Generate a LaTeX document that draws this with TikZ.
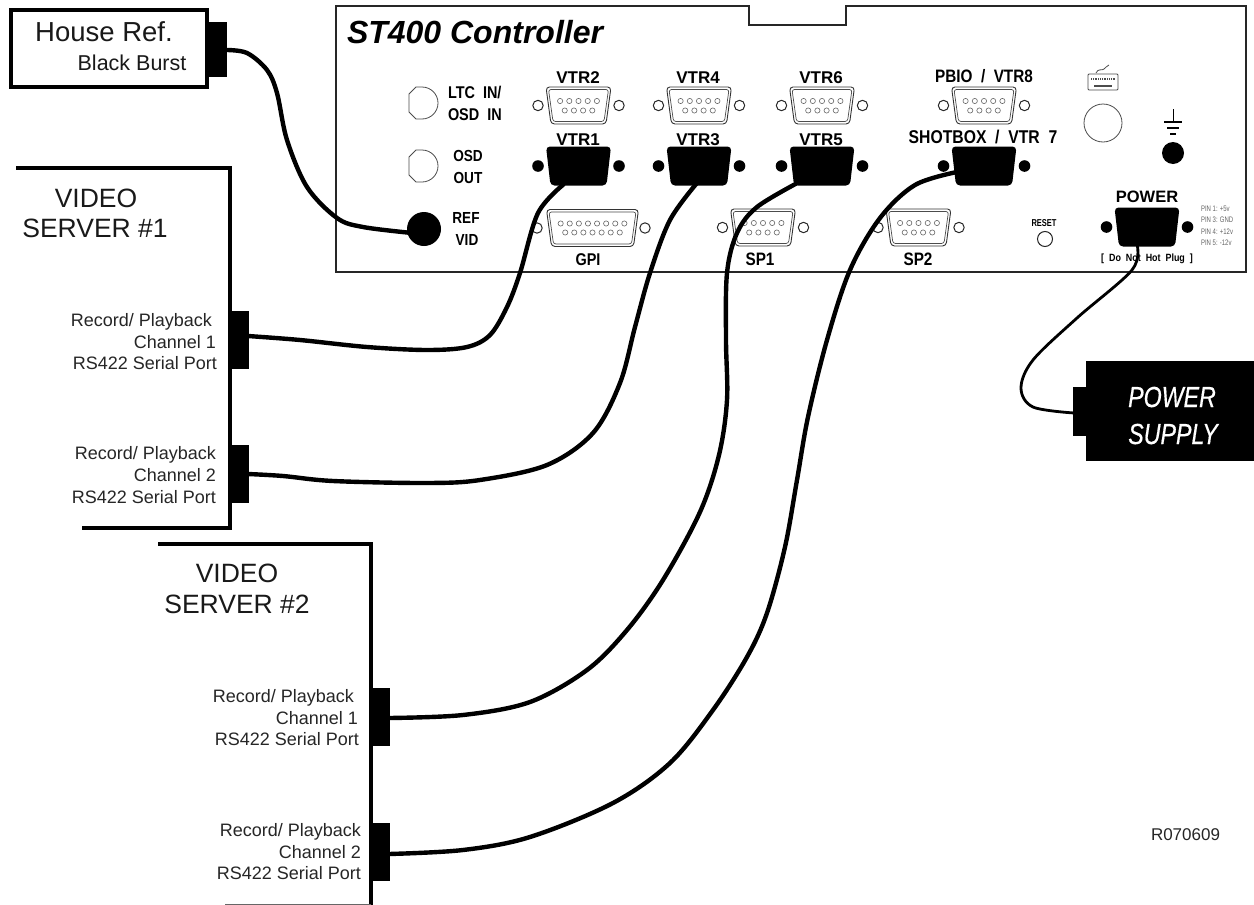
\documentclass[tikz,border=0pt]{standalone}
\usepackage{fontspec}
\setmainfont{Liberation Sans}
\newfontfamily\cond[FakeStretch=0.85]{Liberation Sans}
\newfontfamily\condx[FakeStretch=0.75]{Liberation Sans}
\newfontfamily\condp[FakeStretch=0.8,FakeBold=0.5]{Liberation Sans}
\newcommand{\fs}[1]{\fontsize{#1}{#1}\selectfont}
\tikzset{
  lab/.style={inner sep=0pt,outer sep=0pt,anchor=base},
  labl/.style={inner sep=0pt,outer sep=0pt,anchor=base west},
  labr/.style={inner sep=0pt,outer sep=0pt,anchor=base east},
  conlab/.style={lab,font=\fs{17}\bfseries},
  panlab/.style={lab,font=\fs{16}\cond\bfseries},
  portlab/.style={labr,font=\fs{18},text=black!85},
  srvlab/.style={lab,font=\fs{26.5},text=black!90},
  cable/.style={line width=4.4pt,line cap=butt,black},
  hole/.style={draw=black!85,line width=1pt,fill=white},
  pin/.style={draw=black!60,line width=0.6pt,fill=white},
  pan/.style={draw=black!85,line width=1.5pt},
  srv/.style={draw=black,line width=3.2pt},
  pinl/.style={labl,font=\fs{8}\condx,text=black!60}
}
% open D-sub: centre x, centre y, half width top, half width bottom
\newcommand{\dopen}[4]{%
  \draw[black!80,line width=0.9pt,rounded corners=3.5pt] (#1-#3,#2-18.5) -- (#1+#3,#2-18.5) -- (#1+#4,#2+18.5) -- (#1-#4,#2+18.5) -- cycle;
  \draw[black!70,line width=0.7pt,rounded corners=2.5pt] (#1-#3+2.5,#2-16) -- (#1+#3-2.5,#2-16) -- (#1+#4-2,#2+16) -- (#1-#4+2,#2+16) -- cycle;
}
\newcommand{\dblack}[4]{%
  \fill[black,rounded corners=4pt] (#1-#3,#2-19.5) -- (#1+#3,#2-19.5) -- (#1+#4,#2+19.5) -- (#1-#4,#2+19.5) -- cycle;
}
\newcommand{\pinsnine}[2]{%
  \foreach \i in {-2,...,2} \draw[pin] (#1+\i*9.2,#2-4.5) circle (2.6);
  \foreach \i in {-1.5,-0.5,0.5,1.5} \draw[pin] (#1+\i*9.2,#2+5) circle (2.6);
}
\newcommand{\nineopen}[2]{%
  \dopen{#1}{#2}{32.5}{27.5}
  \pinsnine{#1}{#2}
  \draw[hole] (#1-40.5,#2) circle (5.2);
  \draw[hole] (#1+40.5,#2) circle (5.2);
}
\newcommand{\nineblack}[2]{%
  \dblack{#1}{#2}{32.5}{28}
  \fill (#1-40.5,#2) circle (5.8);
  \fill (#1+40.5,#2) circle (5.8);
}
\begin{document}
\begin{tikzpicture}[x=1pt,y=1pt,yscale=-1]
\useasboundingbox (0,0) rectangle (1254,905);
\fill[white] (0,0) rectangle (1254,905);

% ---------- controller panel
\draw[pan] (336,6) -- (749,6) -- (749,25) -- (846,25) -- (846,6) -- (1246,6) -- (1246,272) -- (336,272) -- cycle;
\node[labl,font=\fs{32}\bfseries\itshape] (title) at (347,43) {ST400 Controller};

% round jacks
\foreach \yy in {103,166}{
  \draw[black!70,line width=0.8pt] (422,\yy+16) arc (90:-90:16) -- (416,\yy-16) -- (409,\yy-9) -- (409,\yy+9) -- (416,\yy+16) -- cycle;
}
\fill (424,229) circle (17);
\node[labl,font=\fs{17}\cond\bfseries] (ltc) at (448,98) {LTC\ \ IN/};
\node[labl,font=\fs{17}\cond\bfseries] (osdin) at (448,120) {OSD\ \ IN};
\node[panlab] (osd) at (468,161) {OSD};
\node[panlab] (out) at (468,183) {OUT};
\node[panlab] (ref) at (466,223) {REF};
\node[panlab] (vid) at (467,245) {VID};

% D-sub connectors
\nineopen{578.5}{105.5}
\nineopen{699}{105.5}
\nineopen{822}{105.5}
\nineopen{984}{105.5}
\nineblack{578.5}{166}
\nineblack{699}{166}
\nineblack{822}{166}
\nineblack{984}{166}
\nineopen{763}{227.5}
\nineopen{918.5}{227.5}
\nineblack{1147}{227}
% GPI
\dopen{592.5}{228}{46}{41}
\foreach \i in {-3.5,-2.5,...,3.5} \draw[pin] (592.5+\i*9.1,223.5) circle (2.6);
\foreach \i in {-3,...,3} \draw[pin] (592.5+\i*9.1,232.5) circle (2.6);
\draw[hole] (537,228) circle (5.2);
\draw[hole] (645,228) circle (5.2);

\node[conlab] (vtr2) at (578,83) {VTR2};
\node[conlab] (vtr4) at (698,83) {VTR4};
\node[conlab] (vtr6) at (821,83) {VTR6};
\node[conlab] (vtr1) at (578,145) {VTR1};
\node[conlab] (vtr3) at (698,145) {VTR3};
\node[conlab] (vtr5) at (821,145) {VTR5};
\node[conlab,font=\fs{18}\cond\bfseries] (pbio) at (984,82) {PBIO\ \ /\ \ VTR8};
\node[conlab,font=\fs{18.5}\cond\bfseries] (shot) at (983,143) {SHOTBOX\ \ /\ \ VTR\ \ 7};
\node[conlab,font=\fs{17}\cond\bfseries] (gpi) at (588,265) {GPI};
\node[conlab,font=\fs{18}\cond\bfseries] (sp1) at (760,265) {SP1};
\node[conlab,font=\fs{18}\cond\bfseries] (sp2) at (918,265) {SP2};
\node[conlab,font=\fs{16.5}\bfseries] (pow) at (1147,202) {POWER};
\node[lab,font=\fs{10}\condx\bfseries] (rst) at (1044,226) {RESET};
\draw[hole] (1045,239) circle (7.5);
\node[lab,font=\fs{10.5}\cond\bfseries] (dnh) at (1147,261) {[\ \ Do\ \ Not\ \ Hot\ \ Plug\ \ ]};
\node[pinl] (p1) at (1201,211) {PIN 1: +5v};
\node[pinl] (p3) at (1201,222.5) {PIN 3: GND};
\node[pinl] (p4) at (1201,234) {PIN 4: +12v};
\node[pinl] (p5) at (1201,245) {PIN 5: -12v};

% keyboard icon, round port, ground
\draw[black!70,line width=0.8pt,rounded corners=1pt] (1088,74) rectangle (1118,90);
\draw[black!70,line width=0.8pt] (1096,73) .. controls (1098,68) and (1102,71) .. (1104,69) .. controls (1105,68) and (1107,66) .. (1109,65);
\draw[black!70,line width=2.5pt,dash pattern=on 1pt off 0.8pt] (1091,79) -- (1115,79);
\draw[black!70,line width=1.2pt] (1094,86) -- (1112,86);
\draw[black!70,line width=0.8pt,fill=white] (1103,123) circle (19);
\draw[line width=1pt,black] (1173,109) -- (1173,122);
\draw[line width=1.5pt,black] (1164,122) -- (1182,122);
\draw[line width=1.5pt,black] (1167,128) -- (1179,128);
\draw[line width=1.5pt,black] (1170,134) -- (1176,134);
\fill (1173,153) circle (11);

% ---------- House ref
\draw[srv] (11,10) rectangle (207,87);
\fill (207,22) rectangle (227,77);
\coordinate (houseport) at (226,50);
\coordinate (refjack) at (412,233);
\node[lab,font=\fs{27.5},text=black!90] (house) at (104,41) {House Ref.};
\node[lab,font=\fs{21.5},text=black!90] (bb) at (132,70) {Black Burst};

% ---------- video server 1
\draw[srv,line cap=rect] (18,168) -- (230,168) -- (230,528) -- (84,528);
\fill (230,311) rectangle (249,369);
\fill (232,445) rectangle (249,503);
\coordinate (s1a) at (248,336);
\coordinate (s1b) at (248,474);
\node[srvlab] (v1) at (96,207) {VIDEO};
\node[srvlab] (s1) at (95,237) {SERVER \#1};
\node[portlab] (a1) at (212,326) {Record/ Playback};
\node[portlab] (a2) at (216,348) {Channel 1};
\node[portlab] (a3) at (217,369) {RS422 Serial Port};
\node[portlab] (b1) at (216,459) {Record/ Playback};
\node[portlab] (b2) at (216,481) {Channel 2};
\node[portlab] (b3) at (216,503) {RS422 Serial Port};

% ---------- video server 2
\draw[srv,line cap=rect] (160,544) -- (371,544) -- (371,907);
\draw[black!60,line width=1pt] (225,904.5) -- (371,904.5);
\fill (371,688) rectangle (390,746);
\fill (372,823) rectangle (390,881);
\coordinate (s2a) at (389,718);
\coordinate (s2b) at (389,854);
\node[srvlab] (v2) at (237,582) {VIDEO};
\node[srvlab] (s2) at (237,613) {SERVER \#2};
\node[portlab] (c1) at (354,702) {Record/ Playback};
\node[portlab] (c2) at (358,724) {Channel 1};
\node[portlab] (c3) at (359,745) {RS422 Serial Port};
\node[portlab] (d1) at (361,836) {Record/ Playback};
\node[portlab] (d2) at (361,858) {Channel 2};
\node[portlab] (d3) at (361,879) {RS422 Serial Port};

% ---------- power supply
\fill (1086,361) rectangle (1254,461);
\fill (1073,387) rectangle (1087,436);
\coordinate (psu) at (1074,413);
\coordinate (powerend) at (1137,244);
\node[lab,font=\fs{29}\condp\itshape,text=white] (ps1) at (1172,407) {POWER};
\node[lab,font=\fs{29}\condp\itshape,text=white] (ps2) at (1173,444) {SUPPLY};

\node[labr,font=\fs{17},text=black!85] (rev) at (1220,840) {R070609};

% ---------- cables
\coordinate (e1) at (564,184);
\coordinate (e3) at (697,183);
\coordinate (e5) at (801,181);
\coordinate (e7) at (957,172);
\draw[cable] plot[smooth,tension=0.55] coordinates {(houseport) (247,53) (267,70) (277,93) (287,140) (307,187) (337,218) (363,227) (refjack)};
\draw[cable] plot[smooth,tension=0.55] coordinates {(s1a) (300,340) (367,347) (427,350) (467,347) (490,335) (507,307) (520,273) (538,213) (e1)};
\draw[cable] plot[smooth,tension=0.55] coordinates {(s1b) (283,476) (333,481) (427,483) (480,480) (547,465) (593,433) (620,383) (635,327) (650,273) (670,220) (e3)};
\draw[cable] plot[smooth,tension=0.55] coordinates {(s2a) (463,715) (530,702) (587,670) (627,630) (663,580) (700,512) (719,455) (727,400) (726,340) (727,273) (737,233) (757,207) (e5)};
\draw[cable] plot[smooth,tension=0.55] coordinates {(s2b) (463,850) (530,837) (613,803) (670,763) (713,710) (747,657) (767,613) (785,547) (797,480) (808,417) (827,340) (850,270) (880,218) (915,185) (e7)};
\draw[cable,line width=2.8pt] plot[smooth,tension=0.55] coordinates {(powerend) (1132,270) (1077,318) (1033,360) (1021,388) (1033,407) (psu)};
\end{tikzpicture}
\end{document}
